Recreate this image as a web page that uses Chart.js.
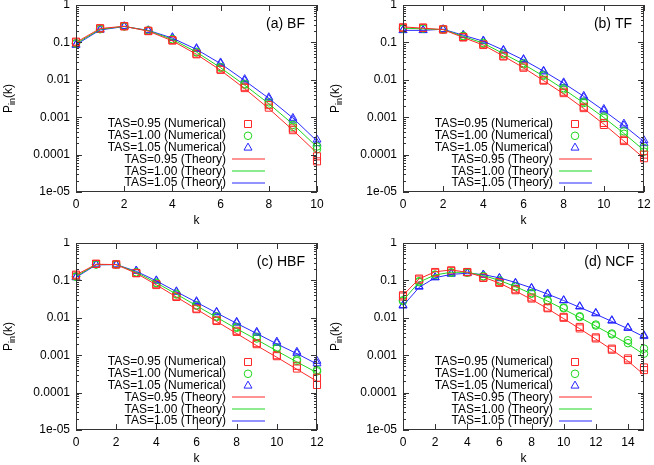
<!DOCTYPE html>
<html>
<head>
<meta charset="utf-8">
<script src="https://cdn.jsdelivr.net/npm/chart.js@4"></script>
<style>
  body { margin: 0; background: #fff; }
  #wrap { position: relative; width: 654px; height: 465px; }
  canvas { position: absolute; }
</style>
</head>
<body>
<div id="wrap">
  <canvas id="bf" width="327" height="227" style="left:0;top:0"></canvas>
  <canvas id="tf" width="327" height="227" style="left:327px;top:0"></canvas>
  <canvas id="hbf" width="327" height="227" style="left:0;top:238px"></canvas>
  <canvas id="ncf" width="327" height="227" style="left:327px;top:238px"></canvas>
</div>
<script>
// y axis ticks (log scale)
const yTicks = [1, 0.1, 0.01, 0.001, 0.0001, 0.00001];
const yLabels = ["1", "0.1", "0.01", "0.001", "0.0001", "1e-05"];
// x axis ticks (k)
const xTicks = [0, 2, 4, 6, 8, 10, 12, 14];
const seriesNames = [
  "TAS=0.95 (Numerical)", "TAS=1.00 (Numerical)", "TAS=1.05 (Numerical)",
  "TAS=0.95 (Theory)", "TAS=1.00 (Theory)", "TAS=1.05 (Theory)",
];

// (a) BF, k = 0..10
const bfNum95a = [0.105, 0.24, 0.27, 0.205, 0.115, 0.05, 0.019, 0.006, 0.0018, 0.00045, 0.00009];
const bfNum95b = [0.1, 0.235, 0.27, 0.2, 0.112, 0.048, 0.0185, 0.0065, 0.0021, 0.0005, 0.000066];
const bfNum100a = [0.095, 0.23, 0.27, 0.21, 0.122, 0.056, 0.022, 0.0074, 0.0025, 0.00062, 0.000165];
const bfNum100b = [0.093, 0.225, 0.268, 0.205, 0.118, 0.054, 0.021, 0.0078, 0.0022, 0.00055, 0.00014];
const bfNum105a = [0.088, 0.22, 0.27, 0.21, 0.137, 0.07, 0.029, 0.0104, 0.0034, 0.00095, 0.00025];
const bfNum105b = [0.085, 0.215, 0.265, 0.205, 0.13, 0.066, 0.027, 0.0095, 0.0031, 0.00085, 0.0002];
const bfTh95 = [0.1, 0.235, 0.27, 0.2, 0.11, 0.048, 0.018, 0.0058, 0.0017, 0.00045, 0.00011];
const bfTh100 = [0.093, 0.225, 0.268, 0.205, 0.12, 0.055, 0.021, 0.0072, 0.0023, 0.00065, 0.00016];
const bfTh105 = [0.087, 0.215, 0.265, 0.21, 0.13, 0.065, 0.027, 0.0095, 0.0032, 0.00095, 0.00023];

// (b) TF, k = 0..12
const tfNum95a = [0.254, 0.25, 0.224, 0.14, 0.089, 0.044, 0.0227, 0.01, 0.0044, 0.00175, 0.0007, 0.00025, 0.00008];
const tfNum95b = [0.245, 0.245, 0.22, 0.135, 0.085, 0.042, 0.021, 0.0095, 0.0048, 0.0019, 0.00062, 0.00023, 0.0001];
const tfNum100a = [0.24, 0.24, 0.225, 0.15, 0.097, 0.051, 0.028, 0.0136, 0.006, 0.0026, 0.00105, 0.00042, 0.00015];
const tfNum100b = [0.235, 0.235, 0.22, 0.145, 0.093, 0.048, 0.026, 0.0128, 0.0055, 0.0024, 0.00095, 0.00036, 0.00012];
const tfNum105a = [0.215, 0.215, 0.225, 0.158, 0.112, 0.063, 0.0356, 0.0174, 0.0085, 0.0037, 0.00165, 0.00067, 0.00024];
const tfNum105b = [0.21, 0.21, 0.22, 0.155, 0.107, 0.06, 0.034, 0.0165, 0.0078, 0.0034, 0.0015, 0.0006, 0.0002];
const tfTh95 = [0.26, 0.24, 0.22, 0.135, 0.085, 0.043, 0.021, 0.0095, 0.0042, 0.0017, 0.00065, 0.00023, 0.00008];
const tfTh100 = [0.24, 0.23, 0.22, 0.145, 0.095, 0.05, 0.026, 0.0125, 0.0056, 0.0024, 0.00098, 0.00037, 0.00013];
const tfTh105 = [0.21, 0.21, 0.225, 0.155, 0.108, 0.062, 0.034, 0.017, 0.0081, 0.0036, 0.0015, 0.0006, 0.00022];

// (c) HBF, k = 0..12
const hbfNum95a = [0.143, 0.28, 0.27, 0.158, 0.079, 0.0377, 0.0177, 0.0086, 0.0042, 0.00197, 0.00094, 0.00044, 0.00025];
const hbfNum95b = [0.135, 0.275, 0.265, 0.155, 0.075, 0.036, 0.017, 0.0082, 0.0045, 0.0021, 0.001, 0.00052, 0.00016];
const hbfNum100a = [0.128, 0.27, 0.27, 0.165, 0.087, 0.044, 0.0217, 0.011, 0.0057, 0.0028, 0.0015, 0.00077, 0.0004];
const hbfNum100b = [0.125, 0.265, 0.265, 0.16, 0.084, 0.042, 0.021, 0.0105, 0.0054, 0.0031, 0.0016, 0.0007, 0.00037];
const hbfNum105a = [0.124, 0.265, 0.265, 0.183, 0.1, 0.051, 0.0277, 0.0144, 0.0078, 0.0042, 0.0023, 0.00123, 0.0007];
const hbfNum105b = [0.12, 0.26, 0.26, 0.178, 0.097, 0.049, 0.026, 0.0138, 0.0073, 0.0039, 0.0021, 0.00112, 0.0006];
const hbfTh95 = [0.14, 0.27, 0.265, 0.155, 0.076, 0.036, 0.017, 0.008, 0.0038, 0.0018, 0.00088, 0.00042, 0.0002];
const hbfTh100 = [0.128, 0.265, 0.265, 0.165, 0.086, 0.043, 0.021, 0.0103, 0.0051, 0.0026, 0.0013, 0.00066, 0.00034];
const hbfTh105 = [0.12, 0.26, 0.265, 0.175, 0.097, 0.05, 0.026, 0.0135, 0.0071, 0.0038, 0.002, 0.0011, 0.00058];

// (d) NCF, k = 0..15
const ncfNum95a = [0.04, 0.112, 0.168, 0.186, 0.168, 0.116, 0.086, 0.0545, 0.0327, 0.0188, 0.0106, 0.0057, 0.003, 0.0015, 0.00074, 0.0004];
const ncfNum95b = [0.037, 0.105, 0.16, 0.18, 0.165, 0.12, 0.09, 0.058, 0.035, 0.018, 0.01, 0.0052, 0.0028, 0.0014, 0.00082, 0.00047];
const ncfNum100a = [0.0295, 0.095, 0.143, 0.165, 0.165, 0.13, 0.1, 0.07, 0.046, 0.0295, 0.0188, 0.011, 0.0066, 0.0038, 0.0021, 0.0011];
const ncfNum100b = [0.028, 0.09, 0.14, 0.16, 0.16, 0.127, 0.097, 0.067, 0.044, 0.028, 0.018, 0.0105, 0.0062, 0.0036, 0.0025, 0.0015];
const ncfNum105a = [0.0217, 0.067, 0.119, 0.149, 0.155, 0.143, 0.116, 0.086, 0.063, 0.0445, 0.0295, 0.0204, 0.0135, 0.0086, 0.0055, 0.0034];
const ncfNum105b = [0.021, 0.07, 0.122, 0.152, 0.158, 0.14, 0.113, 0.083, 0.061, 0.043, 0.029, 0.0198, 0.013, 0.0083, 0.0053, 0.0032];
const ncfTh95 = [0.04, 0.11, 0.17, 0.19, 0.165, 0.122, 0.085, 0.052, 0.031, 0.0175, 0.0095, 0.0051, 0.0027, 0.0014, 0.0007, 0.0003];
const ncfTh100 = [0.029, 0.09, 0.14, 0.165, 0.165, 0.135, 0.1, 0.068, 0.044, 0.028, 0.017, 0.0102, 0.006, 0.0035, 0.002, 0.00105];
const ncfTh105 = [0.021, 0.065, 0.118, 0.145, 0.155, 0.143, 0.117, 0.088, 0.063, 0.043, 0.029, 0.019, 0.0125, 0.008, 0.0051, 0.0031];

const colors = ["rgb(255,40,40)", "rgb(30,215,30)", "rgb(40,40,255)"];
const markers = ["rect", "circle", "triangle"];
const markerRadius = [5, 3.8, 4.6];
const FONT = "Liberation Sans, Arial, sans-serif";

const pts = (arr) => arr.map((v, k) => ({ x: k, y: v }));

// frame, inward ticks, axis titles, panel label and legend (gnuplot style)
const decorations = {
  id: "decorations",
  afterDraw(chart, args, opts) {
    const { ctx, chartArea: a, scales } = chart;
    const x = scales.x, y = scales.y;
    ctx.save();
    ctx.strokeStyle = "#333";
    ctx.lineWidth = 1;
    ctx.strokeRect(a.left + 0.5, a.top + 0.5, a.right - a.left - 1, a.bottom - a.top - 1);

    ctx.beginPath();
    xTicks.filter((k) => k <= opts.kMax).forEach((k) => {
      const px = Math.round(x.getPixelForValue(k)) + 0.5;
      ctx.moveTo(px, a.bottom); ctx.lineTo(px, a.bottom - 6);
      ctx.moveTo(px, a.top); ctx.lineTo(px, a.top + 6);
    });
    for (let e = -5; e <= 0; e++) {
      for (let m = 1; m <= 9; m++) {
        const v = m * Math.pow(10, e);
        if (e === 0 && m > 1) continue;
        const len = m === 1 ? 6 : 3;
        const py = Math.round(y.getPixelForValue(v)) + 0.5;
        ctx.moveTo(a.left, py); ctx.lineTo(a.left + len, py);
        ctx.moveTo(a.right, py); ctx.lineTo(a.right - len, py);
      }
    }
    ctx.stroke();

    ctx.fillStyle = "#000";
    ctx.font = "12px " + FONT;
    ctx.textAlign = "center";
    ctx.textBaseline = "middle";
    ctx.fillText("k", (a.left + a.right) / 2, a.bottom + 29);

    // P_in(k)
    ctx.save();
    ctx.translate(8, (a.top + a.bottom) / 2);
    ctx.rotate(-Math.PI / 2);
    ctx.textAlign = "left";
    ctx.textBaseline = "alphabetic";
    ctx.font = "12px " + FONT;
    const wP = ctx.measureText("P").width;
    const wK = ctx.measureText("(k)").width;
    ctx.font = "9px " + FONT;
    const wIn = ctx.measureText("in").width;
    const sx = -(wP + wIn + wK) / 2;
    ctx.font = "12px " + FONT;
    ctx.fillText("P", sx, 4);
    ctx.font = "9px " + FONT;
    ctx.fillText("in", sx + wP, 7);
    ctx.font = "12px " + FONT;
    ctx.fillText("(k)", sx + wP + wIn, 4);
    ctx.restore();

    // panel label
    ctx.font = "14px " + FONT;
    ctx.textAlign = "right";
    ctx.fillText(opts.label, a.right - opts.labelRight, a.top + 19);

    // legend
    ctx.font = "12px " + FONT;
    ctx.textAlign = "right";
    ctx.lineWidth = 1;
    seriesNames.forEach((name, i) => {
      const ly = a.top + 119 + i * 11.8;
      ctx.fillStyle = "#000";
      ctx.fillText(name, a.left + 150, ly);
      ctx.strokeStyle = colors[i % 3];
      const mx = a.left + 172;
      ctx.beginPath();
      if (i === 0) ctx.rect(mx - 3.5, ly - 3.5, 7, 7);
      else if (i === 1) ctx.arc(mx, ly, 3.8, 0, Math.PI * 2);
      else if (i === 2) { ctx.moveTo(mx, ly - 4.5); ctx.lineTo(mx + 4, ly + 2.5); ctx.lineTo(mx - 4, ly + 2.5); ctx.closePath(); }
      else {
        ctx.moveTo(a.left + 156, Math.round(ly));
        ctx.lineTo(a.left + 189, Math.round(ly));
      }
      ctx.stroke();
    });
    ctx.restore();
  },
};

const makePanel = (id, label, labelRight, kMax, nums, theory) => {
  const datasets = [];
  theory.forEach((arr, i) => {
    datasets.push({
      data: pts(arr), showLine: true, borderColor: colors[i], borderWidth: 1,
      pointRadius: 0, clip: false,
    });
  });
  nums.forEach((arr, i) => {
    const s = Math.floor(i / 2);
    datasets.push({
      data: pts(arr), showLine: false, borderColor: colors[s], backgroundColor: "rgba(0,0,0,0)",
      borderWidth: 1, pointStyle: markers[s], pointRadius: markerRadius[s], clip: false,
    });
  });

  return new Chart(document.getElementById(id).getContext("2d"), {
    type: "scatter",
    data: { datasets },
    plugins: [decorations],
    options: {
      responsive: false,
      animation: false,
      events: [],
      layout: { autoPadding: false, padding: { top: 5, right: 10, bottom: 0, left: 0 } },
      plugins: {
        legend: { display: false },
        tooltip: { enabled: false },
        decorations: { label, labelRight, kMax },
      },
      scales: {
        x: {
          type: "linear",
          min: 0,
          max: kMax,
          grid: { display: false, drawTicks: false },
          border: { display: false },
          afterBuildTicks: (s) => { s.ticks = xTicks.filter((k) => k <= kMax).map((v) => ({ value: v })); },
          ticks: { autoSkip: false, padding: 5, color: "#000", font: { family: FONT, size: 12 }, maxRotation: 0 },
          afterFit: (s) => { s.height = 35; s.paddingLeft = 0; s.paddingRight = 0; },
        },
        y: {
          type: "logarithmic",
          min: 0.00001,
          max: 1,
          grid: { display: false, drawTicks: false },
          border: { display: false },
          afterBuildTicks: (s) => { s.ticks = yTicks.map((v) => ({ value: v })); },
          ticks: {
            autoSkip: false,
            padding: 6,
            color: "#000",
            font: { family: FONT, size: 12 },
            callback: (v) => yLabels[yTicks.indexOf(v)],
          },
          afterFit: (s) => { s.width = 76; s.paddingTop = 0; s.paddingBottom = 0; },
        },
      },
    },
  });
};

makePanel("bf", "(a) BF", 12, 10,
  [bfNum95a, bfNum95b, bfNum100a, bfNum100b, bfNum105a, bfNum105b], [bfTh95, bfTh100, bfTh105]);
makePanel("tf", "(b) TF", 12, 12,
  [tfNum95a, tfNum95b, tfNum100a, tfNum100b, tfNum105a, tfNum105b], [tfTh95, tfTh100, tfTh105]);
makePanel("hbf", "(c) HBF", 12, 12,
  [hbfNum95a, hbfNum95b, hbfNum100a, hbfNum100b, hbfNum105a, hbfNum105b], [hbfTh95, hbfTh100, hbfTh105]);
makePanel("ncf", "(d) NCF", 10, 15,
  [ncfNum95a, ncfNum95b, ncfNum100a, ncfNum100b, ncfNum105a, ncfNum105b], [ncfTh95, ncfTh100, ncfTh105]);
</script>
</body>
</html>
